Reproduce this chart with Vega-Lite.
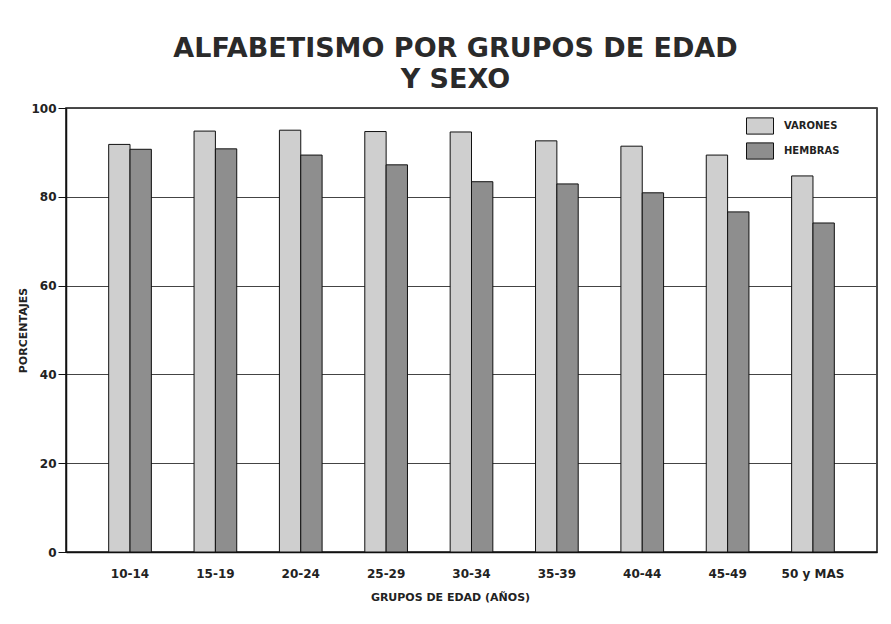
{
  "$schema": "https://vega.github.io/schema/vega-lite/v6.json",
  "autosize": "none",
  "width": 811,
  "height": 444,
  "padding": {"left": 66, "top": 108, "right": 14, "bottom": 72},
  "background": "white",
  "title": {
    "text": ["ALFABETISMO POR GRUPOS DE EDAD", "Y SEXO"],
    "font": "DejaVu Sans",
    "fontSize": 27,
    "fontWeight": "bold",
    "color": "#2a2a2a",
    "anchor": "middle",
    "lineHeight": 31,
    "offset": 8,
    "dx": -16
  },
  "data": {
    "values": [
      {"grupo": "10-14", "sexo": "VARONES", "pct": 91.8},
      {"grupo": "10-14", "sexo": "HEMBRAS", "pct": 90.7},
      {"grupo": "15-19", "sexo": "VARONES", "pct": 94.8},
      {"grupo": "15-19", "sexo": "HEMBRAS", "pct": 90.8},
      {"grupo": "20-24", "sexo": "VARONES", "pct": 95.0},
      {"grupo": "20-24", "sexo": "HEMBRAS", "pct": 89.4},
      {"grupo": "25-29", "sexo": "VARONES", "pct": 94.7},
      {"grupo": "25-29", "sexo": "HEMBRAS", "pct": 87.2},
      {"grupo": "30-34", "sexo": "VARONES", "pct": 94.6},
      {"grupo": "30-34", "sexo": "HEMBRAS", "pct": 83.4},
      {"grupo": "35-39", "sexo": "VARONES", "pct": 92.6},
      {"grupo": "35-39", "sexo": "HEMBRAS", "pct": 82.9},
      {"grupo": "40-44", "sexo": "VARONES", "pct": 91.4},
      {"grupo": "40-44", "sexo": "HEMBRAS", "pct": 80.9},
      {"grupo": "45-49", "sexo": "VARONES", "pct": 89.4},
      {"grupo": "45-49", "sexo": "HEMBRAS", "pct": 76.6},
      {"grupo": "50 y MAS", "sexo": "VARONES", "pct": 84.7},
      {"grupo": "50 y MAS", "sexo": "HEMBRAS", "pct": 74.1}
    ]
  },
  "mark": {"type": "bar", "stroke": "#111111", "strokeWidth": 1},
  "encoding": {
    "x": {
      "field": "grupo",
      "type": "nominal",
      "sort": null,
      "scale": {"paddingInner": 0.5, "paddingOuter": 0.5},
      "axis": {
        "title": "GRUPOS DE EDAD (AÑOS)",
        "labelAngle": 0,
        "ticks": false,
        "labelPadding": 16,
        "labelFont": "DejaVu Sans",
        "labelFontSize": 12,
        "labelFontWeight": "bold",
        "labelColor": "#222222",
        "titleFont": "DejaVu Sans",
        "titleFontSize": 11,
        "titleFontWeight": "bold",
        "titleColor": "#222222",
        "titlePadding": 12,
        "titleX": 384,
        "titleAnchor": "middle",
        "domainColor": "#111111",
        "domainWidth": 1.5
      }
    },
    "xOffset": {"field": "sexo", "sort": ["VARONES", "HEMBRAS"]},
    "y": {
      "field": "pct",
      "type": "quantitative",
      "scale": {"domain": [0, 100], "nice": false},
      "axis": {
        "title": "PORCENTAJES",
        "values": [0, 20, 40, 60, 80, 100],
        "tickSize": 8,
        "tickColor": "#111111",
        "labelPadding": 2,
        "labelFont": "DejaVu Sans",
        "labelFontSize": 12,
        "labelFontWeight": "bold",
        "labelColor": "#222222",
        "titleFont": "DejaVu Sans",
        "titleFontSize": 11,
        "titleFontWeight": "bold",
        "titleColor": "#222222",
        "titlePadding": 2,
        "grid": true,
        "gridColor": "#444444",
        "gridWidth": 1,
        "domainColor": "#111111",
        "domainWidth": 1.5
      }
    },
    "color": {
      "field": "sexo",
      "type": "nominal",
      "scale": {"domain": ["VARONES", "HEMBRAS"], "range": ["#cfcfcf", "#8e8e8e"]},
      "legend": {
        "title": null,
        "orient": "none",
        "legendX": 680,
        "legendY": 4,
        "symbolType": "M-1,-0.6H1V0.6H-1Z",
        "symbolSize": 729,
        "symbolStrokeColor": "#111111",
        "symbolStrokeWidth": 1,
        "symbolOpacity": 1,
        "labelFont": "DejaVu Sans",
        "labelFontSize": 10,
        "labelFontWeight": "bold",
        "labelColor": "#222222",
        "labelOffset": 10,
        "rowPadding": -4
      }
    }
  },
  "config": {
    "view": {"stroke": "#111111", "strokeWidth": 1.5}
  }
}
